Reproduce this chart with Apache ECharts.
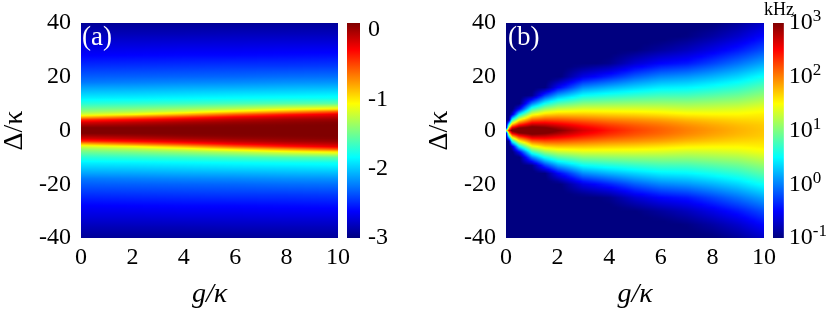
<!DOCTYPE html>
<html>
<head>
<meta charset="utf-8">
<script src="https://cdn.jsdelivr.net/npm/echarts@6/dist/echarts.min.js"></script>
<style>
  html, body { margin: 0; padding: 0; background: #fff; }
  #chart { width: 830px; height: 315px; }
</style>
</head>
<body>
<div id="chart"></div>
<script>
/*
|--------------------------------------------------------------------------
| Data
|--------------------------------------------------------------------------
*/

const gTicks = [0, 2, 4, 6, 8, 10];
const deltaRange = [-40, 40];

// Panel (a): log10 values. Rows are Δ >= 0 (the map is mirror symmetric in Δ)
const aDelta = [0, 1, 2, 3, 4, 5, 6, 7, 8, 10, 12, 14, 16, 18, 20, 24, 28, 32, 36, 40];
const aG = [0, 2, 4, 6, 8, 10];
const aColG0  = [0.1, 0.1, -0.02, -0.17, -0.42, -0.85, -1.2, -1.38, -1.5, -1.72, -1.88, -2.0, -2.12, -2.25, -2.33, -2.48, -2.62, -2.72, -2.83, -2.93];
const aColG2  = [0.1, 0.1, 0.02, -0.1, -0.3, -0.65, -1.08, -1.3, -1.45, -1.69, -1.87, -1.99, -2.11, -2.23, -2.32, -2.47, -2.61, -2.72, -2.83, -2.93];
const aColG4  = [0.1, 0.1, 0.06, -0.03, -0.18, -0.45, -0.85, -1.18, -1.37, -1.66, -1.85, -1.97, -2.09, -2.21, -2.31, -2.46, -2.6, -2.71, -2.83, -2.93];
const aColG6  = [0.1, 0.1, 0.08, 0.02, -0.08, -0.26, -0.58, -0.98, -1.27, -1.62, -1.83, -1.95, -2.08, -2.2, -2.3, -2.45, -2.6, -2.71, -2.82, -2.93];
const aColG8  = [0.1, 0.1, 0.09, 0.05, -0.01, -0.15, -0.37, -0.77, -1.13, -1.58, -1.81, -1.94, -2.06, -2.18, -2.28, -2.45, -2.59, -2.7, -2.82, -2.92];
const aColG10 = [0.1, 0.1, 0.1, 0.08, 0.02, -0.09, -0.22, -0.55, -1.02, -1.55, -1.8, -1.92, -2.05, -2.17, -2.27, -2.44, -2.58, -2.7, -2.82, -2.92];
const aCols = [aColG0, aColG2, aColG4, aColG6, aColG8, aColG10];
const aScale = [-3, 0.1];
const aBarTicks = [-3, -2, -1, 0];

// Panel (b): log10 of kHz. Rows are Δ >= 0 (mirror symmetric)
const bDelta = [0, 1, 2, 3, 4, 6, 8, 10, 13, 16, 20, 25, 30, 35, 40];
const bG = [0, 0.1, 0.25, 0.5, 1, 1.5, 2, 3, 4, 5, 6, 7, 8, 9, 10];
const bColG0   = [1.0, -1.05, -1.05, -1.05, -1.05, -1.05, -1.05, -1.05, -1.05, -1.05, -1.05, -1.05, -1.05, -1.05, -1.05];
const bColG01  = [2.5, 1.7, 0.8, -0.1, -0.95, -1.05, -1.05, -1.05, -1.05, -1.05, -1.05, -1.05, -1.05, -1.05, -1.05];
const bColG025 = [3.1, 2.6, 1.9, 1.2, 0.55, -0.75, -1.05, -1.05, -1.05, -1.05, -1.05, -1.05, -1.05, -1.05, -1.05];
const bColG05  = [3.3, 2.95, 2.45, 1.95, 1.45, 0.45, -0.55, -1.05, -1.05, -1.05, -1.05, -1.05, -1.05, -1.05, -1.05];
const bColG1   = [3.35, 3.12, 2.8, 2.45, 2.1, 1.4, 0.7, 0.0, -0.95, -1.05, -1.05, -1.05, -1.05, -1.05, -1.05];
const bColG15  = [3.2, 3.02, 2.76, 2.48, 2.2, 1.65, 1.1, 0.55, -0.27, -1.0, -1.05, -1.05, -1.05, -1.05, -1.05];
const bColG2   = [3.0, 2.86, 2.64, 2.41, 2.18, 1.72, 1.27, 0.82, 0.15, -0.52, -1.05, -1.05, -1.05, -1.05, -1.05];
const bColG3   = [2.65, 2.56, 2.42, 2.26, 2.08, 1.72, 1.37, 1.02, 0.52, 0.04, -0.6, -1.05, -1.05, -1.05, -1.05];
const bColG4   = [2.42, 2.36, 2.26, 2.13, 1.99, 1.68, 1.37, 1.06, 0.62, 0.2, -0.38, -0.95, -1.05, -1.05, -1.05];
const bColG5   = [2.25, 2.21, 2.14, 2.04, 1.93, 1.65, 1.37, 1.09, 0.7, 0.33, -0.14, -0.68, -1.0, -1.05, -1.05];
const bColG6   = [2.12, 2.1, 2.04, 1.96, 1.86, 1.6, 1.35, 1.1, 0.76, 0.44, 0.02, -0.5, -0.88, -1.05, -1.05];
const bColG7   = [2.0, 1.98, 1.93, 1.86, 1.77, 1.54, 1.3, 1.09, 0.77, 0.47, 0.09, -0.42, -0.76, -0.98, -1.05];
const bColG8   = [1.9, 1.88, 1.84, 1.78, 1.71, 1.52, 1.32, 1.13, 0.84, 0.56, 0.2, -0.25, -0.6, -0.86, -1.02];
const bColG9   = [1.8, 1.79, 1.76, 1.71, 1.66, 1.52, 1.36, 1.18, 0.92, 0.67, 0.34, -0.06, -0.42, -0.7, -0.9];
const bColG10  = [1.72, 1.71, 1.7, 1.67, 1.63, 1.56, 1.45, 1.3, 1.07, 0.85, 0.54, 0.15, -0.2, -0.48, -0.72];
const bCols = [bColG0, bColG01, bColG025, bColG05, bColG1, bColG15, bColG2, bColG3, bColG4,
               bColG5, bColG6, bColG7, bColG8, bColG9, bColG10];
const bScale = [-1, 3];
const bBarTicks = [-1, 0, 1, 2, 3];

/*
|--------------------------------------------------------------------------
| Helpers
|--------------------------------------------------------------------------
*/

const serif = 'Liberation Serif';

// MATLAB style jet colormap
function jet(t) {
    t = Math.min(1, Math.max(0, t));
    const c = x => Math.round(255 * Math.min(1, Math.max(0, x)));
    const r = Math.min(4 * t - 1.5, -4 * t + 4.5);
    const g = Math.min(4 * t - 0.5, -4 * t + 3.5);
    const b = Math.min(4 * t + 0.5, -4 * t + 2.5);
    return `rgb(${c(r)},${c(g)},${c(b)})`;
}

// Vertical gradient (top = Δ 40, bottom = Δ -40) for one thin strip
function stripGradient(deltas, vals, scale) {
    const pts = [];
    for (let j = deltas.length - 1; j >= 0; j--) pts.push([deltas[j], vals[j]]);
    for (let j = 1; j < deltas.length; j++) pts.push([-deltas[j], vals[j]]);

    const span = deltaRange[1] - deltaRange[0];
    const toT = v => (v - scale[0]) / (scale[1] - scale[0]);
    const stops = [];
    for (let k = 0; k < pts.length - 1; k++) {
        const [d0, v0] = pts[k];
        const [d1, v1] = pts[k + 1];
        const sub = 4;
        for (let s = 0; s < sub; s++) {
            const f = s / sub;
            stops.push({
                offset: (deltaRange[1] - (d0 + (d1 - d0) * f)) / span,
                color: jet(toT(v0 + (v1 - v0) * f)),
            });
        }
    }
    stops.push({ offset: 1, color: jet(toT(pts[pts.length - 1][1])) });
    return new echarts.graphic.LinearGradient(0, 0, 0, 1, stops);
}

// Shaded field between two neighbouring columns (like shading interp)
function fieldRenderer(gs, deltas, cols, scale) {
    return function (params, api) {
        const i = api.value(2);
        const x0 = Math.round(api.coord([gs[i], 0])[0]);
        const x1 = Math.round(api.coord([gs[i + 1], 0])[0]);
        const yTop = api.coord([0, deltaRange[1]])[1];
        const yBot = api.coord([0, deltaRange[0]])[1];
        const children = [];
        for (let x = x0; x < x1; x++) {
            const f = (x + 0.5 - x0) / (x1 - x0);
            const vals = cols[i].map((v, j) => v * (1 - f) + cols[i + 1][j] * f);
            children.push({
                type: 'rect',
                shape: { x, y: yTop, width: 1, height: yBot - yTop },
                style: { fill: stripGradient(deltas, vals, scale) },
            });
        }
        return { type: 'group', children };
    };
}

function colorbarRenderer(scale) {
    return function (params, api) {
        const p0 = api.coord([0, scale[1]]);
        const p1 = api.coord([1, scale[0]]);
        const stops = [];
        for (let k = 0; k <= 64; k++) stops.push({ offset: k / 64, color: jet(1 - k / 64) });
        return {
            type: 'rect',
            shape: { x: p0[0], y: p0[1], width: p1[0] - p0[0], height: p1[1] - p0[1] },
            style: { fill: new echarts.graphic.LinearGradient(0, 0, 0, 1, stops) },
        };
    };
}

const cells = gs => gs.slice(0, -1).map((g, i) => [g, 0, i]);

/*
|--------------------------------------------------------------------------
| Axes
|--------------------------------------------------------------------------
*/

const tickLabel = { fontFamily: serif, fontSize: 24, color: '#000' };
const hidden = { show: false };

function fieldXAxis(gridIndex) {
    return {
        gridIndex, type: 'value', min: gTicks[0], max: gTicks[gTicks.length - 1], interval: 2,
        axisLine: hidden, axisTick: hidden, splitLine: hidden,
        axisLabel: { ...tickLabel, margin: 8 },
        name: 'g/κ', nameLocation: 'middle', nameGap: 43,
        nameTextStyle: { fontFamily: serif, fontSize: 28, fontStyle: 'italic', color: '#000' },
    };
}

function fieldYAxis(gridIndex) {
    return {
        gridIndex, type: 'value', min: deltaRange[0], max: deltaRange[1], interval: 20,
        axisLine: hidden, axisTick: hidden, splitLine: hidden,
        axisLabel: { ...tickLabel, margin: 10 },
        name: 'Δ/κ', nameLocation: 'middle', nameGap: 52,
        nameTextStyle: { fontFamily: serif, fontSize: 28, color: '#000' },
    };
}

function barXAxis(gridIndex) {
    return { gridIndex, type: 'value', min: 0, max: 1, show: false };
}

function barYAxis(gridIndex, scale, ticks, formatter, margin) {
    return {
        gridIndex, type: 'value', position: 'right', min: scale[0], max: scale[1], interval: 1,
        axisLine: hidden, axisTick: hidden, splitLine: hidden,
        axisLabel: {
            ...tickLabel, margin, showMaxLabel: ticks.includes(scale[1]),
            formatter: v => (ticks.includes(v) ? formatter(v) : ''),
            rich: { sup: { fontFamily: serif, fontSize: 17, padding: [0, 0, 12, 0], color: '#000' } },
        },
    };
}

/*
|--------------------------------------------------------------------------
| Chart
|--------------------------------------------------------------------------
*/

const chart = echarts.init(document.getElementById('chart'), null, { renderer: 'canvas' });

chart.setOption({
    animation: false,
    backgroundColor: '#fff',
    grid: [
        { left: 81, top: 23, width: 257, height: 215 },
        { left: 347, top: 23, width: 13, height: 215 },
        { left: 506, top: 23, width: 258, height: 215 },
        { left: 773, top: 23, width: 13, height: 215 },
    ],
    xAxis: [fieldXAxis(0), barXAxis(1), fieldXAxis(2), barXAxis(3)],
    yAxis: [
        fieldYAxis(0),
        barYAxis(1, aScale, aBarTicks, v => String(v), 8),
        fieldYAxis(2),
        barYAxis(3, bScale, bBarTicks, v => `10{sup|${v}}`, 5),
    ],
    series: [
        {
            type: 'custom', xAxisIndex: 0, yAxisIndex: 0, clip: true,
            renderItem: fieldRenderer(aG, aDelta, aCols, aScale),
            data: cells(aG),
        },
        {
            type: 'custom', xAxisIndex: 1, yAxisIndex: 1,
            renderItem: colorbarRenderer(aScale),
            data: [[0, 0]],
        },
        {
            type: 'custom', xAxisIndex: 2, yAxisIndex: 2, clip: true,
            renderItem: fieldRenderer(bG, bDelta, bCols, bScale),
            data: cells(bG),
        },
        {
            type: 'custom', xAxisIndex: 3, yAxisIndex: 3,
            renderItem: colorbarRenderer(bScale),
            data: [[0, 0]],
        },
    ],
    graphic: [
        { type: 'text', z: 100, left: 82, top: 24, style: { text: '(a)', font: `27px "${serif}"`, fill: '#fff' } },
        { type: 'text', z: 100, left: 508, top: 24, style: { text: '(b)', font: `27px "${serif}"`, fill: '#fff' } },
        { type: 'text', z: 100, left: 764, top: 1, style: { text: 'kHz', font: `18px "${serif}"`, fill: '#000' } },
    ],
});
</script>
</body>
</html>
